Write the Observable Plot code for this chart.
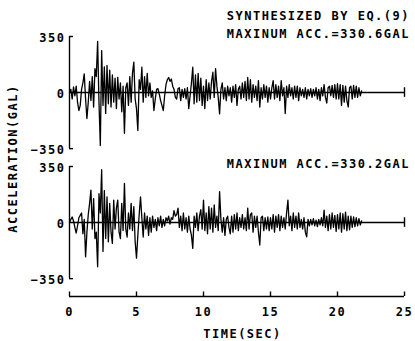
<!DOCTYPE html>
<html><head><meta charset="utf-8">
<script src="https://cdn.jsdelivr.net/npm/d3@7"></script>
<script src="https://cdn.jsdelivr.net/npm/@observablehq/plot@0.6"></script>
<style>
html,body{margin:0;padding:0;background:#fff;}
#chart svg text{letter-spacing:1.5px;}
</style></head><body><div id="chart"></div>
<script>
const dt = 0.1; // sampling step (sec)
const upperAcc = [
  0, 20, -40, 35, -20, 40, -60, -112, -80, 20,
  60, 117, -40, -162, -60, 70, -50, 100, -90, 150,
  100, 320, -60, -331, 262, -80, 160, -130, 170, -70,
  140, -90, 110, -60, 90, -100, 95, -40, 60, -120,
  40, -254, 30, 60, -80, 100, -60, 120, 190, -40,
  -100, -237, 80, 20, 158, -60, 100, -30, 120, -20,
  60, -30, 10, -112, -40, 20, 25, -10, -50, -80,
  -112, -20, 50, 80, 94, 70, 85, 40, 20, -30,
  -40, 25, 30, -50, 20, -30, 25, -40, 30, -100,
  -20, 60, 158, -70, 110, -60, 120, -50, 90, -80,
  40, -100, 80, -50, 60, -40, 70, 127, -30, 150,
  40, -30, -133, 20, 60, -40, 30, -50, 40, -20,
  30, -60, 40, -30, 50, -80, 20, 40, -40, 60,
  -30, 70, -50, 94, -40, 80, -60, 50, -30, 40,
  -50, 75, -90, 30, -40, 50, -30, 40, -60, 30,
  -40, 30, 75, -40, 50, -30, 40, -50, 75, -20,
  30, -131, 40, -30, 50, -20, 30, -40, 40, -30,
  40, -50, 30, -20, 20, -30, 30, -40, 20, -20,
  25, -30, 20, -20, 30, -40, 20, -50, 30, -20,
  50, -30, -65, 30, 40, -20, 45, -30, 50, -40,
  55, -40, 50, -80, 45, -60, 40, -50, -90, 30,
  40, -40, 45, -30, 40, -30, 30, -20, 10
];
const lowerAcc = [
  0, 20, 35, 10, -30, -65, -20, 30, 45, 60,
  -70, 20, -214, -60, 50, 120, 203, -40, 150, -100,
  -60, -276, 180, 60, 330, -180, 200, -100, 160, -120,
  120, -60, -130, 140, -40, 90, 140, -60, -100, 120,
  -50, 245, -40, -90, 60, -40, 120, -50, 100, -120,
  -222, -80, 50, 161, 30, -90, 60, -40, 40, -80,
  30, -60, 40, -30, 20, -50, 30, -20, 40, -30,
  20, -20, 30, 10, 40, -10, 30, 20, 74, 40,
  50, 90, -30, 40, -50, 60, -40, 30, -60, 40,
  -40, -80, -161, 40, -30, 60, -50, 40, 80, -40,
  140, -50, 60, -70, 100, -40, 90, -60, 110, -30,
  40, -50, 193, 20, -60, 30, -80, 20, 40, -30,
  -70, 40, -60, 50, -40, 60, -50, 30, -30, 50,
  -40, 30, -50, 90, -40, 50, 60, -60, 40, -30,
  40, -60, -140, 30, 40, -50, 30, -40, 35, -50,
  30, -40, 50, -60, 40, -30, 50, -50, 40, -30,
  30, -40, 60, 140, -20, 40, -50, 60, -30, 40,
  -40, 60, -30, 20, -40, 30, -60, -89, 20, -20,
  20, -15, 25, -20, 15, -25, 20, -15, 30, -20,
  78, -30, 40, -50, 50, -40, 60, -30, 45, -55,
  50, -40, 60, -60, 55, -40, 65, -50, 40, -45,
  40, -30, 35, -25, 30, -20, 25, -15, 10
];
const panels = ["upper", "lower"];
const yTicks = [-350, 0, 350];
const xTicks = [0, 5, 10, 15, 20, 25];
const titleLine1 = "SYNTHESIZED BY EQ.(9)";
const titleLine2 = "MAXINUM ACC.=330.6GAL";
const lowerNote = "MAXINUM ACC.=330.2GAL";
const xLabel = "TIME(SEC)";
const yLabel = "ACCELERATION(GAL)";

const rows = [];
upperAcc.forEach((v, i) => rows.push({t: +(i * dt).toFixed(2), v, panel: "upper"}));
lowerAcc.forEach((v, i) => rows.push({t: +(i * dt).toFixed(2), v, panel: "lower"}));

const yMin = -461.5; // extra room below -350 provides the gap between panels
const font = "'DejaVu Sans Mono', monospace";
const sw = 1.4;

const chart = Plot.plot({
  width: 415, height: 341,
  marginLeft: 69, marginRight: 11, marginTop: 35, marginBottom: 45,
  style: {fontFamily: font, fontWeight: "bold", background: "white", color: "black"},
  x: {domain: [0, 25]},
  y: {domain: [yMin, 350]},
  fy: {domain: panels, padding: 0, axis: null},
  marks: [
    Plot.ruleY([0], {strokeWidth: sw}),
    Plot.ruleX([25], {y1: -30, y2: 30, strokeWidth: sw}),
    Plot.ruleX([0], {y1: -350, y2: 350, strokeWidth: sw}),
    Plot.tickY([-350, 350], {insetRight: 331, strokeWidth: sw}),
    Plot.line(rows, {x: "t", y: "v", fy: "panel", stroke: "black", strokeWidth: 1.3}),
    Plot.axisY({ticks: yTicks, tickSize: 0, tickPadding: 4, fontSize: 12, label: null, dy: 1.5}),
    Plot.ruleY([yMin], {fy: ["lower"], strokeWidth: sw}),
    Plot.tickX(xTicks, {fy: xTicks.map(() => "lower"), insetTop: 125.5, strokeWidth: sw}),
    Plot.axisX({ticks: xTicks, tickSize: 0, tickPadding: 11, fontSize: 12, label: null}),
    Plot.text([xLabel], {text: d => d, fy: ["lower"], frameAnchor: "bottom", dx: 5.5, dy: 41, lineAnchor: "bottom", fontSize: 12}),
    Plot.text([yLabel], {text: d => d, fy: ["upper"], frameAnchor: "bottom-left", dx: -56, dy: -8, rotate: -90, textAnchor: "middle", lineAnchor: "middle", fontSize: 12}),
    Plot.text([titleLine1], {text: d => d, fy: ["upper"], frameAnchor: "top-right", dx: 5.5, dy: -16.5, textAnchor: "end", lineAnchor: "bottom", fontSize: 12}),
    Plot.text([titleLine2], {text: d => d, fy: ["upper"], frameAnchor: "top-right", dx: 5.5, dy: 1, textAnchor: "end", lineAnchor: "bottom", fontSize: 12}),
    Plot.text([lowerNote], {text: d => d, fy: ["lower"], frameAnchor: "top-right", dx: 5.5, dy: 1.5, textAnchor: "end", lineAnchor: "bottom", fontSize: 12})
  ]
});
document.getElementById("chart").appendChild(chart);
</script>
</body></html>
